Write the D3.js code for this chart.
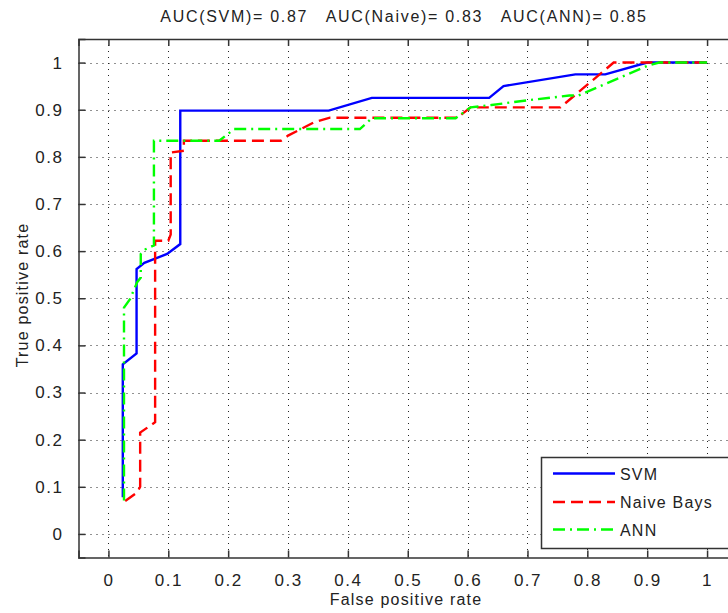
<!DOCTYPE html>
<html>
<head>
<meta charset="utf-8">
<script src="https://cdn.jsdelivr.net/npm/d3@7"></script>
<style>
  body { margin: 0; background: #fff; }
  svg { display: block; font-family: "Liberation Sans", Arial, sans-serif; }
</style>
</head>
<body>
<div id="chart"></div>
<script>
// ROC curves (false positive rate / true positive rate)
var svmFpr = [0.024, 0.024, 0.047, 0.047, 0.06, 0.098, 0.12, 0.12, 0.368, 0.44, 0.636, 0.66, 0.78, 0.83, 0.9, 1];
var svmTpr = [0.078, 0.36, 0.383, 0.562, 0.575, 0.594, 0.615, 0.898, 0.898, 0.925, 0.925, 0.95, 0.975, 0.975, 1, 1];

var nbFpr = [0.028, 0.048, 0.053, 0.053, 0.078, 0.078, 0.1, 0.104, 0.104, 0.126, 0.126, 0.288, 0.3, 0.343, 0.37, 0.583, 0.605, 0.755, 0.844, 1];
var nbTpr = [0.07, 0.088, 0.1, 0.215, 0.237, 0.622, 0.622, 0.635, 0.809, 0.813, 0.834, 0.834, 0.845, 0.873, 0.883, 0.883, 0.905, 0.905, 1, 1];

var annFpr = [0.026, 0.026, 0.036, 0.048, 0.054, 0.054, 0.062, 0.076, 0.076, 0.185, 0.21, 0.42, 0.44, 0.58, 0.605, 0.64, 0.7, 0.77, 0.785, 0.9, 0.92, 1];
var annTpr = [0.071, 0.48, 0.498, 0.534, 0.544, 0.594, 0.604, 0.612, 0.834, 0.834, 0.859, 0.859, 0.882, 0.882, 0.905, 0.91, 0.92, 0.93, 0.93, 0.993, 1, 1];

var seriesNames = ["SVM", "Naive Bays", "ANN"];
var xTicks = [0, 0.1, 0.2, 0.3, 0.4, 0.5, 0.6, 0.7, 0.8, 0.9, 1];
var yTicks = [0, 0.1, 0.2, 0.3, 0.4, 0.5, 0.6, 0.7, 0.8, 0.9, 1];
var titleText = "AUC(SVM)= 0.87   AUC(Naive)= 0.83   AUC(ANN)= 0.85";
var xLabel = "False positive rate";
var yLabel = "True positive rate";

var w = 728;
var h = 613;
// note: "top" is taken by window.top, so plot edges get their own names
var plotLeft = 78.5, plotRight = 737, plotTop = 39, plotBottom = 557.5;
var tickLen = 7;

var svg = d3.select("#chart")
            .append("svg")
            .attr("width", w)
            .attr("height", h);

var x = d3.scaleLinear().domain([-0.05, 1.05]).range([plotLeft, plotRight]);
var y = d3.scaleLinear().domain([-0.05, 1.05]).range([plotBottom, plotTop]);

// dotted grid
var grid = svg.append("g").attr("id", "grid");
grid.selectAll("line.gx")
  .data(xTicks)
  .enter()
  .append("line")
  .attr("class", "gx")
  .attr("x1", function(d) { return Math.round(x(d)) + 0.5; })
  .attr("x2", function(d) { return Math.round(x(d)) + 0.5; })
  .attr("y1", plotTop)
  .attr("y2", plotBottom)
  .attr("stroke", "#222")
  .attr("stroke-dasharray", "1,5");
grid.selectAll("line.gy")
  .data(yTicks)
  .enter()
  .append("line")
  .attr("class", "gy")
  .attr("y1", function(d) { return Math.round(y(d)) + 0.5; })
  .attr("y2", function(d) { return Math.round(y(d)) + 0.5; })
  .attr("x1", plotLeft)
  .attr("x2", plotRight)
  .attr("stroke", "#222")
  .attr("stroke-dasharray", "1,5");

// axes (ticks pointing inward, mirrored on top)
var xAxis = d3.axisBottom(x).tickValues(xTicks).tickSize(-tickLen).tickPadding(tickLen + 9).tickFormat(d3.format("~g"));
var xAxisTop = d3.axisTop(x).tickValues(xTicks).tickSize(-tickLen).tickFormat("");
var yAxis = d3.axisLeft(y).tickValues(yTicks).tickSize(-tickLen).tickPadding(tickLen + 8).tickFormat(d3.format("~g"));

var gx = svg.append("g").attr("transform", "translate(0," + plotBottom + ")").call(xAxis);
var gxt = svg.append("g").attr("transform", "translate(0," + plotTop + ")").call(xAxisTop);
var gy = svg.append("g").attr("transform", "translate(" + plotLeft + ",0)").call(yAxis);

[gx, gxt, gy].forEach(function(g) {
  g.select(".domain").attr("stroke", "#333").attr("stroke-width", 1.5);
  g.selectAll(".tick line").attr("stroke", "#333").attr("stroke-width", 1.5);
  g.selectAll(".tick text")
    .attr("fill", "#222")
    .style("font-size", "17px")
    .style("letter-spacing", "1.5px")
    .style("font-family", "'Liberation Sans', Arial, sans-serif");
});

// curves
var line = d3.line()
  .x(function(d) { return x(d[0]); })
  .y(function(d) { return y(d[1]); });

var curves = [
  { fpr: svmFpr, tpr: svmTpr, color: "#0000ff", dash: null },
  { fpr: nbFpr, tpr: nbTpr, color: "#ff0000", dash: "12,6" },
  { fpr: annFpr, tpr: annTpr, color: "#00ff00", dash: "12,5,2,5" }
];

svg.append("g")
  .attr("id", "curves")
  .selectAll("path")
  .data(curves)
  .enter()
  .append("path")
  .attr("d", function(c) { return line(d3.zip(c.fpr, c.tpr)); })
  .attr("fill", "none")
  .attr("stroke", function(c) { return c.color; })
  .attr("stroke-width", 2.4)
  .attr("stroke-dasharray", function(c) { return c.dash; });

// legend
var legend = svg.append("g").attr("id", "legend");
legend.append("rect")
  .attr("x", 541.5)
  .attr("y", 457.5)
  .attr("width", 190)
  .attr("height", 91)
  .attr("fill", "#fff")
  .attr("stroke", "#333")
  .attr("stroke-width", 1.5);

var rows = legend.selectAll("g.row")
  .data(curves)
  .enter()
  .append("g")
  .attr("class", "row")
  .attr("transform", function(d, i) { return "translate(0," + [473.5, 502, 529.5][i] + ")"; });

rows.append("line")
  .attr("x1", 553)
  .attr("x2", 615)
  .attr("stroke", function(c) { return c.color; })
  .attr("stroke-width", 2.4)
  .attr("stroke-dasharray", function(c) { return c.dash; });

rows.append("text")
  .text(function(d, i) { return seriesNames[i]; })
  .attr("x", 620)
  .attr("y", 6)
  .attr("fill", "#222")
  .style("font-size", "16px")
  .style("letter-spacing", "1.2px");

// title and axis labels
svg.append("text")
  .text(titleText)
  .attr("x", 404)
  .attr("y", 22)
  .attr("text-anchor", "middle")
  .attr("fill", "#222")
  .style("white-space", "pre")
  .style("font-size", "16px")
  .style("letter-spacing", "1.7px");

svg.append("text")
  .text(xLabel)
  .attr("x", 406)
  .attr("y", 605)
  .attr("text-anchor", "middle")
  .attr("fill", "#222")
  .style("font-size", "16px")
  .style("letter-spacing", "1.2px");

svg.append("text")
  .text(yLabel)
  .attr("transform", "translate(28,295) rotate(-90)")
  .attr("text-anchor", "middle")
  .attr("fill", "#222")
  .style("font-size", "16px")
  .style("letter-spacing", "1.2px");
</script>
</body>
</html>
